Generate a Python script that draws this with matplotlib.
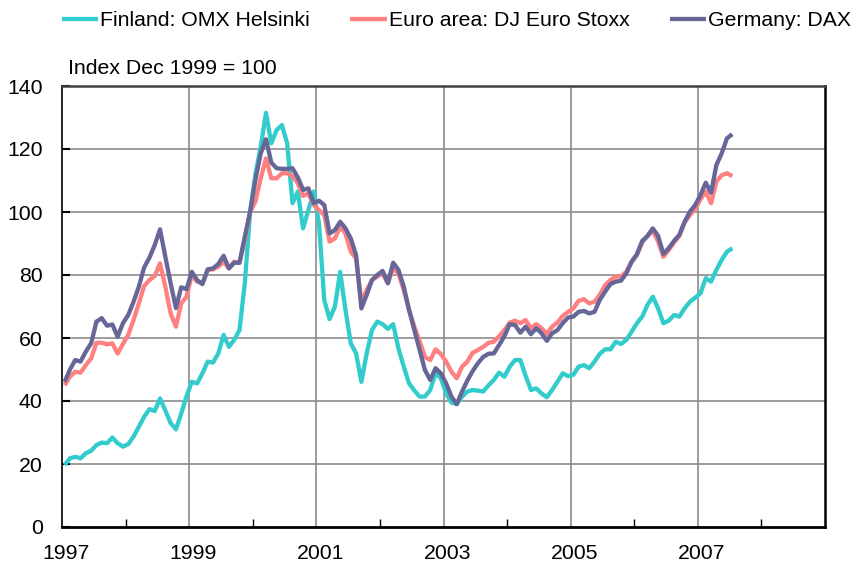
import matplotlib
matplotlib.use('Agg')
import matplotlib.pyplot as plt
import numpy as np
from matplotlib.ticker import FixedLocator
import matplotlib.transforms as mtransforms

# ---------------- data (monthly, Jan 1997 - Jul 2007, Index Dec 1999 = 100) ----------------
start_year = 1997

finland = [
    19.7, 21.8, 22.3, 21.8, 23.4, 24.2, 26.0, 26.8, 26.6, 28.4, 26.6, 25.5,   # 1997
    26.3, 28.7, 31.8, 35.0, 37.4, 36.8, 40.8, 37.0, 33.0, 31.0, 36.0, 41.5,   # 1998
    46.1, 45.6, 48.8, 52.5, 52.2, 55.1, 61.0, 57.2, 59.4, 62.5, 77.4, 100.0,  # 1999
    112.0, 120.7, 131.5, 121.8, 126.0, 127.6, 121.8, 102.8, 106.5, 94.8, 100.6, 106.5,  # 2000
    96.4, 72.0, 66.0, 70.0, 81.0, 68.9, 58.3, 55.1, 46.1, 55.1, 62.5, 65.2,   # 2001
    64.4, 62.9, 64.4, 56.7, 50.9, 45.6, 43.3, 41.4, 41.4, 43.5, 48.8, 47.2,   # 2002
    42.4, 39.5, 39.0, 41.4, 43.0, 43.5, 43.3, 43.0, 45.0, 46.7, 49.0, 47.7,   # 2003
    50.9, 53.0, 53.0, 48.0, 43.5, 44.0, 42.4, 41.2, 43.5, 46.1, 48.8, 47.9,   # 2004
    48.3, 50.9, 51.4, 50.4, 52.5, 55.0, 56.4, 56.4, 58.8, 58.1, 59.4, 62.0,   # 2005
    64.7, 66.8, 70.5, 73.1, 69.4, 64.7, 65.5, 67.3, 66.8, 69.4, 71.5, 72.8,   # 2006
    74.2, 79.0, 77.9, 81.6, 84.8, 87.4, 88.5,                                 # 2007
]

euro_stoxx = [
    45.0, 47.7, 49.3, 49.0, 51.4, 53.5, 58.5, 58.5, 58.0, 58.3, 55.1, 58.1,
    61.0, 65.7, 71.0, 76.5, 78.4, 79.7, 83.7, 76.3, 67.8, 63.6, 71.0, 73.1,
    80.0, 77.9, 77.4, 81.6, 81.8, 82.6, 84.2, 82.1, 84.2, 83.9, 91.1, 100.0,
    103.3, 110.7, 117.0, 110.7, 110.7, 112.3, 112.3, 111.4, 109.1, 105.1, 105.9, 102.2,
    100.6, 99.0, 90.6, 91.6, 95.3, 93.2, 87.4, 85.3, 71.5, 75.2, 78.4, 79.5,
    80.5, 77.4, 82.1, 80.5, 75.2, 68.9, 63.6, 59.0, 54.0, 53.0, 56.4, 54.9,
    52.5, 49.3, 47.2, 50.9, 52.5, 55.3, 56.2, 57.2, 58.5, 58.8, 60.6, 62.5,
    64.9, 65.5, 64.7, 65.7, 63.1, 64.4, 63.1, 61.3, 63.6, 64.9, 67.0, 68.3,
    69.4, 71.8, 72.3, 71.0, 71.5, 73.7, 76.8, 78.4, 79.5, 79.5, 81.0, 84.2,
    86.3, 90.3, 92.4, 94.1, 90.6, 85.8, 87.9, 90.3, 92.4, 96.6, 99.0, 100.9,
    104.0, 106.5, 102.8, 109.6, 111.7, 112.3, 111.4,
]

dax = [
    46.1, 50.0, 53.0, 52.5, 55.7, 58.3, 65.2, 66.3, 63.9, 64.3, 60.4, 64.7,
    67.3, 71.5, 76.3, 82.4, 85.5, 89.5, 94.5, 85.8, 77.4, 69.5, 76.1, 75.5,
    81.0, 78.4, 77.1, 81.8, 82.1, 83.5, 86.1, 82.1, 83.9, 83.9, 92.2, 100.0,
    110.2, 118.6, 123.1, 115.7, 113.9, 113.7, 113.7, 113.9, 111.0, 107.0, 107.5, 102.8,
    103.6, 102.2, 93.2, 94.3, 96.9, 94.8, 91.6, 86.3, 69.4, 73.7, 78.4, 80.0,
    81.3, 77.4, 83.9, 81.6, 76.3, 68.9, 62.5, 56.2, 49.8, 46.7, 50.4, 48.8,
    45.6, 41.4, 39.0, 43.0, 46.5, 49.5, 52.0, 54.0, 55.0, 55.1, 57.8, 60.6,
    64.4, 64.1, 61.7, 63.6, 61.2, 63.1, 61.5, 59.1, 61.5, 62.5, 64.7, 66.5,
    66.8, 68.3, 68.6, 67.8, 68.3, 72.1, 74.7, 77.1, 77.9, 78.2, 80.5, 84.2,
    86.6, 90.8, 92.4, 94.8, 92.4, 86.7, 88.5, 90.8, 92.7, 96.9, 100.1, 102.2,
    105.4, 109.3, 106.1, 114.9, 118.6, 123.4, 124.7,
]

series_labels = ["Finland: OMX Helsinki", "Euro area: DJ Euro Stoxx", "Germany: DAX"]
series_colors = ["#33CCCC", "#FF8080", "#666699"]

year_ticks = [1997, 1999, 2001, 2003, 2005, 2007]
year_minor = [1998, 2000, 2002, 2004, 2006, 2008]
y_ticks = [0, 20, 40, 60, 80, 100, 120, 140]
y_label_text = "Index Dec 1999 = 100"

# ---------------- figure ----------------
plt.rcParams['font.family'] = ['Liberation Sans', 'DejaVu Sans']
FS = 15.3

W, H = 855, 569
fig = plt.figure(figsize=(W / 100, H / 100), dpi=100)
ax = fig.add_axes([62 / W, 1 - 527 / H, (825 - 62) / W, (527 - 86) / H])

months = np.arange(len(finland))
t = start_year + (months + 0.5) / 12.0

lines = []
for vals, col, lab in zip([finland, euro_stoxx, dax], series_colors, series_labels):
    ln, = ax.plot(t, vals, color=col, lw=3.1, label=lab, solid_joinstyle='round',
                  solid_capstyle='butt', zorder=3)
    lines.append(ln)

ax.set_xlim(1997, 2009)
ax.set_ylim(0, 140)

ax.xaxis.set_major_locator(FixedLocator(year_ticks))
ax.xaxis.set_minor_locator(FixedLocator(year_minor))
ax.set_xticklabels([str(y) for y in year_ticks])
ax.yaxis.set_major_locator(FixedLocator(y_ticks))

ax.tick_params(axis='x', which='both', direction='in', length=6, width=1, colors='black',
               labelsize=FS, pad=12)
ax.tick_params(axis='y', which='major', direction='in', length=6, width=1.5, colors='black',
               labelsize=FS, pad=14)
ax.tick_params(axis='x', which='major', length=0)

# shift x labels slightly right like the original
offset = mtransforms.ScaledTranslation(4 / 100, 0, fig.dpi_scale_trans)
for lbl in ax.get_xticklabels():
    lbl.set_transform(lbl.get_transform() + offset)

# grid
for yv in y_ticks[1:-1]:
    ax.axhline(yv, color='#8c8c8c', lw=1.2, zorder=1)
for xv in year_ticks[1:]:
    ax.axvline(xv, color='#8c8c8c', lw=1.2, zorder=1)

for side in ['left', 'bottom', 'right']:
    ax.spines[side].set_color('black')
ax.spines['left'].set_linewidth(1.2)
ax.spines['bottom'].set_linewidth(2.0)
ax.spines['right'].set_linewidth(1.8)
ax.spines['top'].set_color('#404040')
ax.spines['top'].set_linewidth(1.8)

fig.text(68 / W, 1 - 68 / H, y_label_text, fontsize=FS, va='center', ha='left')

fig.legend(handles=lines, labels=series_labels, ncol=3, loc='center left',
           bbox_to_anchor=(62 / W, 1 - 21 / H), frameon=False, fontsize=FS,
           handlelength=1.7, handletextpad=0.1, columnspacing=1.9,
           borderpad=0, borderaxespad=0)

fig.savefig('out.png', dpi=100)
